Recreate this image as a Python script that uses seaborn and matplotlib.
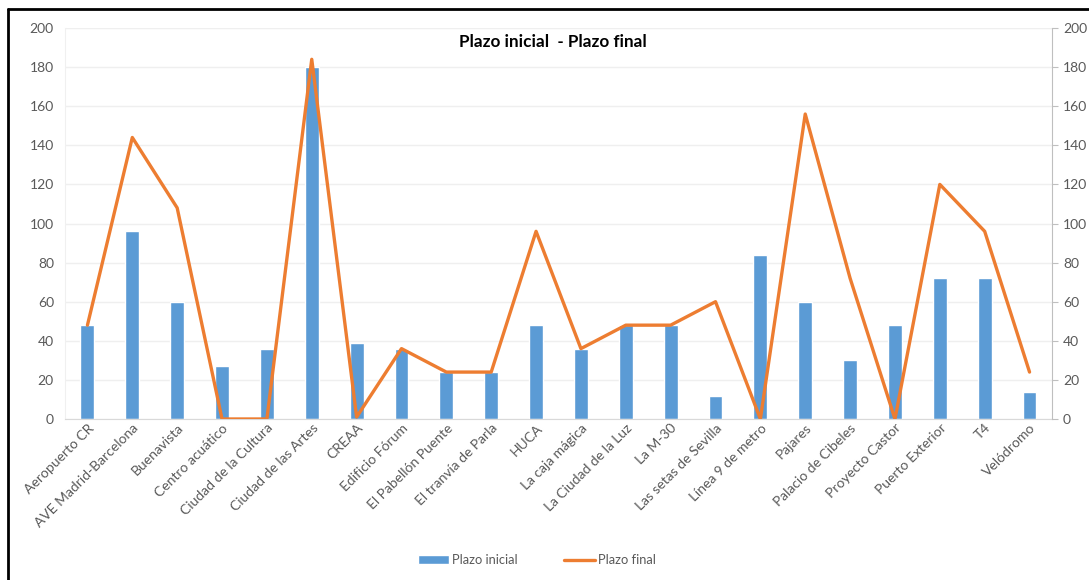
"""Plazo inicial vs plazo final por proyecto
"""

import numpy as np
import matplotlib
matplotlib.use('Agg')
import matplotlib.pyplot as plt
from matplotlib.lines import Line2D
import seaborn as sns
import pandas as pd

proyectos = ['Aeropuerto CR', 'AVE Madrid-Barcelona', 'Buenavista', 'Centro acuático',
             'Ciudad de la Cultura', 'Ciudad de las Artes', 'CREAA', 'Edificio Fórum',
             'El Pabellón Puente', 'El tranvía de Parla', 'HUCA', 'La caja mágica',
             'La Ciudad de la Luz', 'La M-30', 'Las setas de Sevilla', 'Línea 9 de metro',
             'Pajares', 'Palacio de Cibeles', 'Proyecto Castor', 'Puerto Exterior', 'T4',
             'Velódromo']
plazo_inicial = [48, 96, 60, 27, 36, 180, 39, 36, 24, 24, 48, 36, 48, 48, 12, 84, 60, 30, 48, 72, 72, 14]
plazo_final = [48, 144, 108, 0, 0, 184, 1, 36, 24, 24, 96, 36, 48, 48, 60, 0, 156, 72, 0, 120, 96, 24]
y_ticks = [0, 20, 40, 60, 80, 100, 120, 140, 160, 180, 200]

BLUE = '#5B9BD5'
ORANGE = '#ED7D31'
GREY = '#595959'

sns.set_style('white')
plt.rcParams['font.family'] = ['Lato', 'DejaVu Sans']

df = pd.DataFrame({'proyecto': proyectos, 'inicial': plazo_inicial, 'final': plazo_final})
df['pos'] = np.arange(len(df))

fig = plt.figure(figsize=(10.89, 5.8), dpi=100)
ax = fig.add_axes([0.0597, 0.2776, 0.9063, 0.6741])

sns.barplot(data=df, x='proyecto', y='inicial', color=BLUE, width=0.31,
            saturation=1, ax=ax, label='Plazo inicial')
ax2 = ax.twinx()
sns.lineplot(data=df, x='pos', y='final', color=ORANGE, linewidth=2.4, sort=False,
             ax=ax2, label='Plazo final')

for a in (ax, ax2):
    a.set_ylim(0, 200)
    a.set_yticks(y_ticks)
    a.set_xlim(-0.5, len(proyectos) - 0.5)
    a.set_xlabel('')
    a.set_ylabel('')
    for s in a.spines.values():
        s.set_visible(False)
    if a.get_legend() is not None:
        a.get_legend().remove()

ax.grid(axis='y', color='#EFEFEF', linewidth=1)
ax.set_axisbelow(True)
ax.spines['bottom'].set_visible(True)
ax.spines['bottom'].set_color('#D9D9D9')
ax.spines['left'].set_visible(True)
ax.spines['left'].set_color('#F0F0F0')
ax.tick_params(axis='y', length=0, labelsize=10, labelcolor=GREY, pad=8)
ax.tick_params(axis='x', length=0, pad=2)
ax.set_xticks(df['pos'])
ax.set_xticklabels(proyectos, rotation=45, ha='right', rotation_mode='anchor',
                   fontsize=10, color=GREY)

ax2.spines['right'].set_visible(True)
ax2.spines['right'].set_color('#BFBFBF')
ax2.tick_params(axis='y', direction='out', length=4, color='#BFBFBF',
                labelsize=10, labelcolor=GREY, pad=4)

ax.text(0.494, 0.963, 'Plazo inicial  - Plazo final', transform=ax.transAxes,
        ha='center', va='center', fontsize=12.3, fontweight='bold', color='black')

handles = [ax.patches[0], Line2D([0], [0], color=ORANGE, linewidth=2.4)]
fig.legend(handles, ['Plazo inicial', 'Plazo final'], loc='center', ncol=2,
           bbox_to_anchor=(0.493, 0.034), frameon=False, fontsize=9.3,
           labelcolor=GREY, handlelength=2.4, handletextpad=0.2, columnspacing=3.6)

# black frame around the chart (left and top edges visible)
fig.add_artist(Line2D([8 / 1089, 8 / 1089], [0, 1 - 9 / 580], color='black',
                      linewidth=2, transform=fig.transFigure))
fig.add_artist(Line2D([8 / 1089, 1], [1 - 9 / 580, 1 - 9 / 580], color='black',
                      linewidth=2, transform=fig.transFigure))

fig.savefig('out.png', dpi=100)
